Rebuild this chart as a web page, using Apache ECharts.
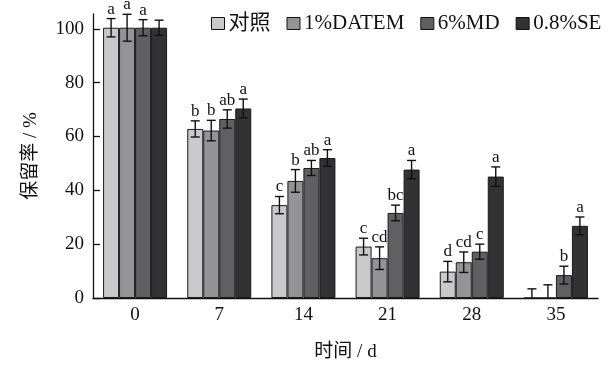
<!DOCTYPE html>
<html>
<head>
<meta charset="utf-8">
<script src="https://cdn.jsdelivr.net/npm/echarts@6/dist/echarts.min.js"></script>
<style>
  html, body { margin: 0; padding: 0; background: #fff; }
  #chart { width: 614px; height: 367px; }
</style>
</head>
<body>
<div id="chart"></div>
<script>
// Storage days
const categories = ['0', '7', '14', '21', '28', '35'];

// Retention rate (%) per treatment
const seriesNames = ['对照', '1%DATEM', '6%MD', '0.8%SE'];
const controlValues = [100.4, 62.8, 34.5, 19.1, 9.8, 0];
const datemValues   = [100.4, 62.2, 43.5, 14.8, 13.3, 0];
const mdValues      = [100.4, 66.5, 48.3, 31.6, 17.2, 8.5];
const seValues      = [100.4, 70.4, 52.0, 47.7, 45.1, 26.8];

// Standard deviations
const controlErr = [3.4, 3.0, 3.2, 3.1, 3.8, 3.4];
const datemErr   = [5.0, 3.8, 4.2, 4.2, 3.8, 4.9];
const mdErr      = [3.0, 3.4, 2.8, 2.9, 2.8, 3.3];
const seErr      = [2.8, 3.5, 3.1, 3.4, 3.6, 3.3];

// Significance letters
const controlSig = ['a', 'b', 'c', 'c', 'd', ''];
const datemSig   = ['a', 'b', 'b', 'cd', 'cd', ''];
const mdSig      = ['a', 'ab', 'ab', 'bc', 'c', 'b'];
const seSig      = ['', 'a', 'a', 'a', 'a', 'a'];

// Y ticks
const yTicks = [0, 20, 40, 60, 80, 100];

const values = [controlValues, datemValues, mdValues, seValues];
const errs = [controlErr, datemErr, mdErr, seErr];
const sigs = [controlSig, datemSig, mdSig, seSig];
const colors = ['#c9c9cb', '#949496', '#606062', '#323133'];

const FONT = '"Liberation Serif", "Times New Roman", "Noto Sans CJK SC", serif';
const BAR_W = 16;

const chart = echarts.init(document.getElementById('chart'));

const barSeries = values.map((vals, i) => ({
  name: seriesNames[i],
  type: 'bar',
  data: vals,
  barWidth: BAR_W,
  barGap: '0%',
  itemStyle: { color: colors[i], borderColor: '#1a1a1a', borderWidth: 1 },
  z: 2
}));

// Error bars and significance letters drawn on top of each bar
const errSeries = values.map((vals, i) => ({
  type: 'custom',
  data: vals.map((v, j) => [j, v, errs[i][j]]),
  z: 5,
  silent: true,
  renderItem: function (params, api) {
    const cat = api.value(0);
    const v = api.value(1);
    const e = api.value(2);
    const letter = sigs[i][cat];
    const off = (i - 1.5) * BAR_W;
    const center = api.coord([cat, v]);
    const x = center[0] + off;
    const lo = api.coord([cat, Math.max(v - e, 0)])[1];
    const hi = api.coord([cat, v + e])[1];
    const cap = 4.5;
    const st = { stroke: '#111', lineWidth: 1.4 };
    const children = [
      { type: 'line', shape: { x1: x, y1: lo, x2: x, y2: hi }, style: st },
      { type: 'line', shape: { x1: x - cap, y1: hi, x2: x + cap, y2: hi }, style: st }
    ];
    if (v - e >= 0) {
      children.push({ type: 'line', shape: { x1: x - cap, y1: lo, x2: x + cap, y2: lo }, style: st });
    }
    if (letter) {
      children.push({
        type: 'text',
        style: {
          x: x, y: hi - 1, text: letter,
          font: '17px ' + FONT, fill: '#111',
          textAlign: 'center', textVerticalAlign: 'bottom'
        }
      });
    }
    return { type: 'group', children: children };
  }
}));

chart.setOption({
  animation: false,
  backgroundColor: '#fff',
  grid: { left: 93, right: 16, top: 14, bottom: 67 },
  legend: {
    data: seriesNames,
    left: 206,
    top: 8,
    itemWidth: 13,
    itemHeight: 12,
    itemGap: 16,
    textStyle: { fontFamily: FONT, fontSize: 21, color: '#111', padding: [0, 0, 0, -1] },
    itemStyle: { borderColor: '#111', borderWidth: 1 },
    icon: 'rect'
  },
  xAxis: {
    type: 'category',
    data: categories,
    name: '时间 / d',
    nameLocation: 'middle',
    nameGap: 45,
    nameTextStyle: { fontFamily: FONT, fontSize: 19, color: '#111' },
    axisLine: { lineStyle: { color: '#111', width: 1.3 } },
    axisTick: { inside: true, length: 7, lineStyle: { color: '#111', width: 1.3 } },
    axisLabel: { fontFamily: FONT, fontSize: 19, color: '#111', margin: 8 }
  },
  yAxis: {
    type: 'value',
    min: 0,
    max: 105.5,
    name: '保留率 / %',
    nameLocation: 'middle',
    nameGap: 52,
    nameRotate: 90,
    nameTextStyle: { fontFamily: FONT, fontSize: 19, color: '#111' },
    axisLine: { show: true, lineStyle: { color: '#111', width: 1.3 } },
    axisTick: { show: true, inside: true, length: 7, customValues: yTicks, lineStyle: { color: '#111', width: 1.3 } },
    axisLabel: { fontFamily: FONT, fontSize: 19, color: '#111', margin: 9, customValues: yTicks },
    splitLine: { show: false }
  },
  series: barSeries.concat(errSeries)
});
</script>
</body>
</html>
